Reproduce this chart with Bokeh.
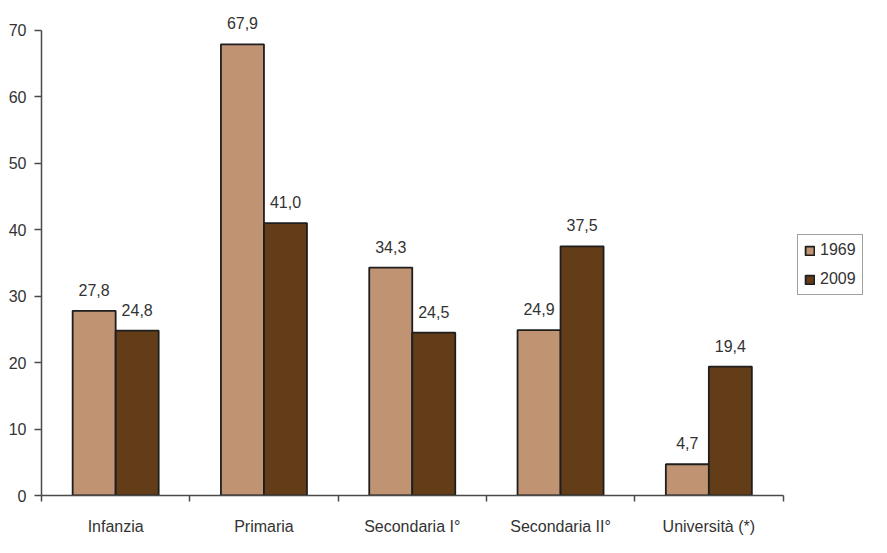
from bokeh.plotting import figure
from bokeh.models import (Range1d, FixedTicker, Legend, LegendItem, ColumnDataSource, LinearAxis)
from bokeh.core.properties import value
from bokeh.embed import file_html
from bokeh.resources import INLINE

categories = ["Infanzia", "Primaria", "Secondaria I°", "Secondaria II°", "Università (*)"]
series_names = ["1969", "2009"]
values_1969 = [27.8, 67.9, 34.3, 24.9, 4.7]
values_2009 = [24.8, 41.0, 24.5, 37.5, 19.4]
y_ticks = [0, 10, 20, 30, 40, 50, 60, 70]

FONT = "Liberation Sans"
C1969 = "#C09373"
C2009 = "#633D17"
TXT = "#333333"
AX = "#4a4a4a"

W, H = 871, 537
LEFT, TOP_FRAME, BOTTOM = 41, 5, 40
RIGHT = 3
ppu_y = (497 - 30) / 70.0          # pixels per unit on y
y_top = 70 + (30 - TOP_FRAME) / ppu_y
cat_px = 148.3
x_end = (W - RIGHT - LEFT) / cat_px

bw = 0.29
idx = list(range(len(categories)))
src69 = ColumnDataSource(dict(x=[i + 0.5 - bw / 2 for i in idx], top=values_1969,
                              lab=[f"{v:.1f}".replace(".", ",") for v in values_1969]))
src09 = ColumnDataSource(dict(x=[i + 0.5 + bw / 2 for i in idx], top=values_2009,
                              lab=[f"{v:.1f}".replace(".", ",") for v in values_2009]))

p = figure(width=W, height=H, output_backend="svg", toolbar_location=None,
           x_range=Range1d(0, x_end), y_range=Range1d(0, y_top),
           min_border_left=LEFT, min_border_right=RIGHT, min_border_top=TOP_FRAME,
           min_border_bottom=BOTTOM, x_axis_type=None)
p.outline_line_color = None
p.grid.visible = False
p.background_fill_color = "white"
p.border_fill_color = "white"

r1 = p.vbar(x="x", top="top", width=bw, bottom=0, source=src69, fill_color=C1969,
            line_color="#1e1e1e", line_width=1.8)
r2 = p.vbar(x="x", top="top", width=bw, bottom=0, source=src09, fill_color=C2009,
            line_color="#1e1e1e", line_width=1.8)

for s in (src69, src09):
    p.text(x="x", y="top", text="lab", source=s, text_align="center", text_baseline="alphabetic",
           y_offset=-21, text_font=value(FONT), text_font_size="16px", text_color=TXT)

xa = LinearAxis(ticker=FixedTicker(ticks=[i + 0.5 for i in idx],
                                   minor_ticks=list(range(len(categories) + 1))),
                bounds=(0, len(categories)))
xa.major_label_overrides = {i + 0.5: c for i, c in enumerate(categories)}
xa.major_tick_line_color = None
xa.major_tick_out = 0
xa.major_tick_in = 0
xa.minor_tick_out = 6
xa.minor_tick_in = 0
xa.minor_tick_line_color = AX
xa.minor_tick_line_width = 1.5
xa.axis_line_color = AX
xa.axis_line_width = 1.5
xa.major_label_standoff = 16
xa.major_label_text_font = FONT
xa.major_label_text_font_size = "16px"
xa.major_label_text_color = TXT
p.add_layout(xa, "below")

ya = p.yaxis[0]
ya.ticker = FixedTicker(ticks=y_ticks, minor_ticks=[])
ya.bounds = (0, 70)
ya.major_tick_out = 7
ya.major_tick_in = 0
ya.major_tick_line_color = AX
ya.major_tick_line_width = 1.5
ya.axis_line_color = AX
ya.axis_line_width = 1.5
ya.major_label_standoff = 8
ya.major_label_text_font = FONT
ya.major_label_text_font_size = "16px"
ya.major_label_text_color = TXT

legend = Legend(items=[LegendItem(label=series_names[0], renderers=[r1]),
                       LegendItem(label=series_names[1], renderers=[r2])],
                location=(797 - LEFT, (H - BOTTOM) - 297))
legend.border_line_color = "#444444"
legend.border_line_width = 1
legend.label_text_font = FONT
legend.label_text_font_size = "16px"
legend.label_text_color = TXT
legend.glyph_width = 11
legend.glyph_height = 11
legend.label_height = 18
legend.padding = 6
legend.spacing = 11
legend.label_standoff = 5
legend.margin = 0
legend.background_fill_alpha = 1
p.add_layout(legend, "center")

open("out.html", "w").write(file_html(p, INLINE))
